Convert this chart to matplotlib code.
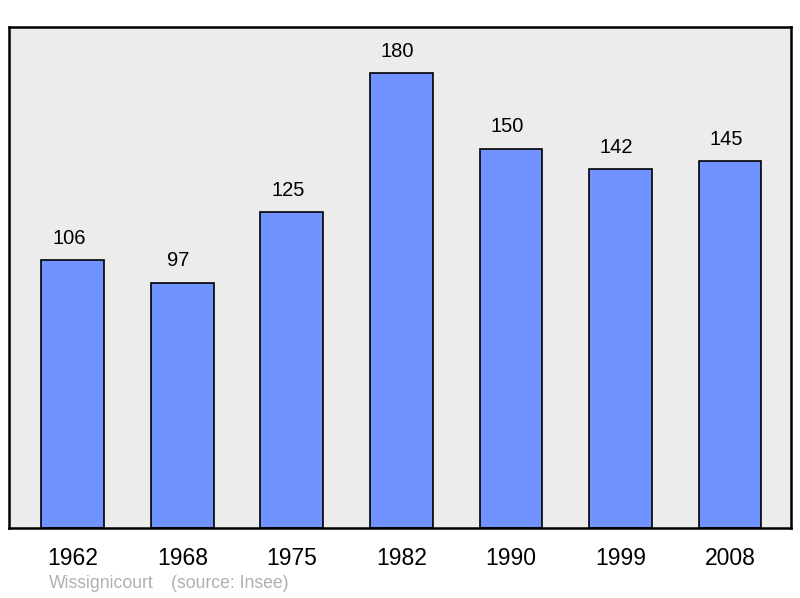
import matplotlib

matplotlib.use("Agg")
import matplotlib.pyplot as plt

plt.rcParams["font.family"] = ["Liberation Sans", "DejaVu Sans"]

years = ["1962", "1968", "1975", "1982", "1990", "1999", "2008"]
population = [106, 97, 125, 180, 150, 142, 145]
town = "Wissignicourt"
source = "(source: Insee)"

fig = plt.figure(figsize=(8.0, 5.98), dpi=100)
ax = fig.add_axes([9 / 800, 70 / 598, 782 / 800, 501 / 598])
ax.set_facecolor("#ececec")

x = range(len(years))
ax.bar(x, population, width=0.575, color="#7093ff", edgecolor="black", linewidth=1.2, zorder=2)
for xi, v in zip(x, population):
    ax.annotate(str(v), (xi, v), xytext=(-4, 22), textcoords="offset pixels",
                ha="center", va="center", fontsize=14.5)

ax.set_xlim(-0.584, 6.557)
ax.set_ylim(0, 198.2)
ax.set_xticks(list(x))
ax.set_xticklabels(years, fontsize=16.5)
ax.tick_params(axis="x", length=0, pad=14)
ax.set_yticks([])
for s in ax.spines.values():
    s.set_linewidth(1.8)

fig.text(49 / 800, 1 - 583 / 598, town, color="#b0b0b0", fontsize=12.7, va="center")
fig.text(171 / 800, 1 - 583 / 598, source, color="#b0b0b0", fontsize=12.7, va="center")

fig.savefig("out.png", dpi=100)
